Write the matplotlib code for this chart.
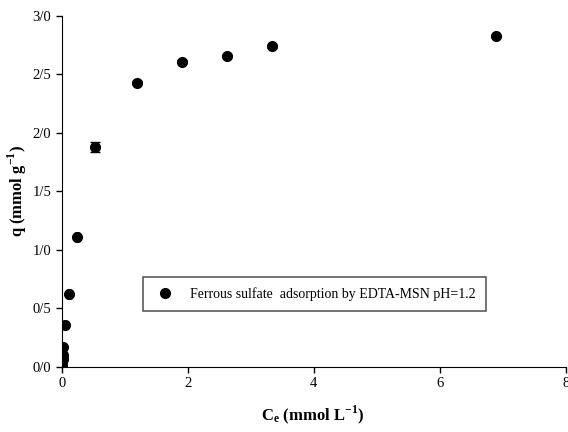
import numpy as np
import matplotlib.pyplot as plt
from matplotlib.ticker import FuncFormatter
from matplotlib.lines import Line2D

plt.rcParams['font.family'] = ['Liberation Serif', 'DejaVu Serif']
plt.rcParams['mathtext.fontset'] = 'custom'
plt.rcParams['mathtext.rm'] = 'Liberation Serif'
plt.rcParams['mathtext.bf'] = 'Liberation Serif:bold'

# adsorption isotherm data
ce = [0.0, 0.005, 0.01, 0.015, 0.02, 0.05, 0.11, 0.24, 0.52, 1.19, 1.90, 2.62, 3.33, 6.90]
q = [0.01, 0.04, 0.07, 0.10, 0.17, 0.36, 0.62, 1.11, 1.88, 2.43, 2.61, 2.66, 2.74, 2.83]
q_err = [0.0, 0.0, 0.0, 0.0, 0.0, 0.0, 0.0, 0.0, 0.04, 0.012, 0.012, 0.01, 0.01, 0.01]
ce_err = [0.0, 0.0, 0.0, 0.0, 0.0, 0.02, 0.03, 0.03, 0.0, 0.0, 0.0, 0.0, 0.0, 0.0]
label = 'Ferrous sulfate  adsorption by EDTA-MSN pH=1.2'

fig, ax = plt.subplots(figsize=(5.68, 4.32), dpi=100)
fig.subplots_adjust(left=0.109, right=0.996, top=0.963, bottom=0.151)

ax.errorbar(ce, q, yerr=q_err, xerr=ce_err, fmt='o', color='black', markersize=7,
            ecolor='black', elinewidth=1, capsize=3.5)

ax.set_xlim(0, 8)
ax.set_ylim(0, 3.0)
ax.set_xticks([0, 2, 4, 6, 8])
ax.set_yticks(np.arange(0, 3.01, 0.5))
ax.yaxis.set_major_formatter(FuncFormatter(lambda v, p: ('%.1f' % v).replace('.', '/')))
ax.tick_params(direction='out', length=4, labelsize=10.5, width=1)

for s in ['top', 'right']:
    ax.spines[s].set_visible(False)

ax.set_xlabel(r'$\mathbf{C_e}$ (mmol L$^{\mathbf{-1}}$)', fontsize=12, fontweight='bold')
ax.set_ylabel(r'q (mmol g$^{\mathbf{-1}}$)', fontsize=12, fontweight='bold')
ax.xaxis.set_label_coords(0.497, -0.105)
ax.yaxis.set_label_coords(-0.066, 0.5)

handle = Line2D([], [], marker='o', color='black', linestyle='none', markersize=7)
leg = ax.legend([handle], [label], loc='center', bbox_to_anchor=(0.501, 0.207), fontsize=10,
                frameon=True, fancybox=False, borderpad=0.75, handletextpad=1.0,
                borderaxespad=0, handlelength=1.6)
leg.get_frame().set_edgecolor('#222222')
leg.get_frame().set_linewidth(1.1)

plt.savefig('out.png', dpi=100)
